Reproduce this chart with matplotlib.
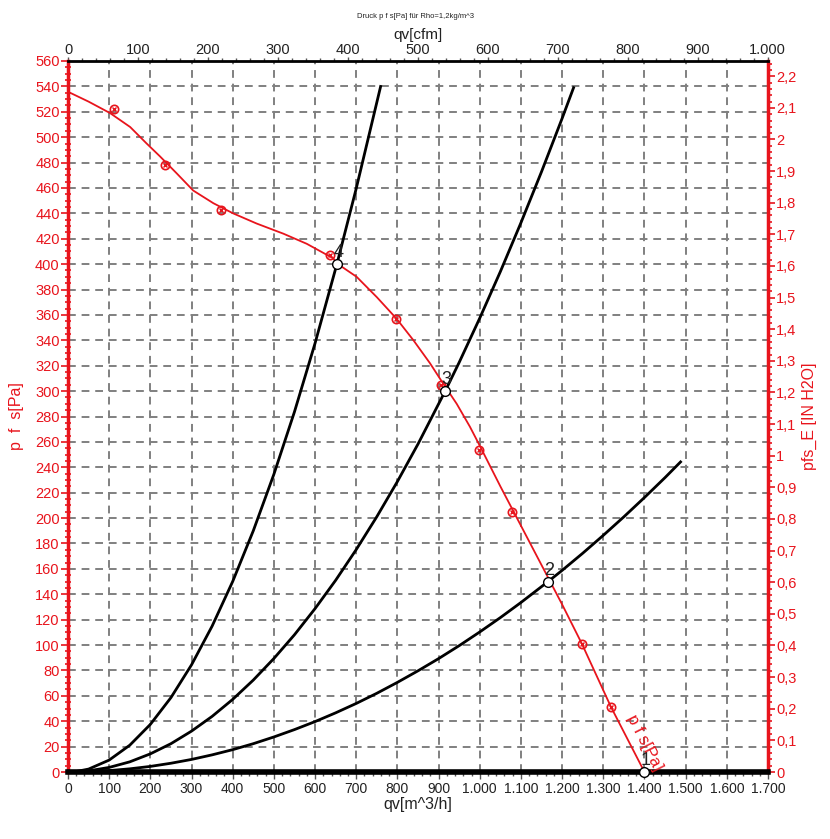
import matplotlib
matplotlib.use("Agg")
import matplotlib.pyplot as plt
from matplotlib.ticker import MultipleLocator, FixedLocator, FuncFormatter

plt.rcParams['font.family'] = ['Liberation Sans', 'DejaVu Sans']

RED = '#e8141c'

# Fan curve (smooth) q [m^3/h], p [Pa]
fan_q = [0, 5, 50, 102, 151, 191, 223, 264, 304, 353, 401, 458, 523, 580, 644, 653, 701, 750, 798,
         839, 879, 911, 944, 976, 1000, 1050, 1100, 1150, 1200, 1248, 1319, 1400]
fan_p = [534, 535, 528, 519, 508, 495, 485, 471.5, 458, 448, 440, 432, 424, 416, 404.6, 400.6, 390, 374, 357,
         340, 322, 306, 290, 272, 257, 225, 194, 163, 132, 101, 51, 0]

# Measured points
meas_q = [112, 236, 372, 636, 796, 906, 998, 1078, 1248, 1319]
meas_p = [522, 478, 443, 407, 357, 305, 254, 205, 101, 51]

# System curves
sys4_q = [20, 50, 100, 150, 200, 250, 300, 350, 400, 450, 500, 550, 600, 653, 700, 760]
sys4_p = [0.4, 2.3, 9.4, 21.1, 37.5, 58.6, 84.4, 114.9, 150.1, 190, 234.5, 283.7, 337.7, 400, 459.6, 541]
sys3_q = [20, 50, 100, 150, 200, 250, 300, 350, 400, 450, 500, 550, 600, 650, 700, 750, 800, 850, 916,
          950, 1000, 1050, 1100, 1150, 1200, 1229]
sys3_p = [0.1, 0.9, 3.6, 8.0, 14.3, 22.3, 32.2, 43.8, 57.2, 72.4, 89.4, 108.1, 128.7, 151.0, 175.2, 201.1,
          228.8, 258.3, 300, 322.6, 357.5, 394.1, 432.6, 472.8, 514.8, 540]
sys2_q = [20, 50, 100, 150, 200, 250, 300, 350, 400, 450, 500, 550, 600, 650, 700, 750, 800, 850, 900,
          950, 1000, 1050, 1100, 1166, 1200, 1250, 1300, 1350, 1400, 1450, 1490]
sys2_p = [0.0, 0.3, 1.1, 2.5, 4.4, 6.9, 9.9, 13.5, 17.6, 22.3, 27.6, 33.4, 39.7, 46.6, 54.0, 62.0, 70.6,
          79.7, 89.3, 99.5, 110.3, 121.6, 133.5, 150, 158.8, 172.3, 186.4, 201.0, 216.2, 231.9, 245]

# Operating points
op_labels = ['1', '2', '3', '4']
op_q = [1400, 1166, 916, 653]
op_p = [0, 150, 300, 400]

x_ticks = list(range(0, 1701, 100))
cfm_ticks = list(range(0, 1001, 100))
inh2o_ticks = [i / 10 for i in range(0, 23)]

fig = plt.figure(figsize=(8.3, 8.39), dpi=100)
ax = fig.add_axes([68/830, 1-772/839, 700/830, 711/839])
ax.set_xlim(0, 1700)
ax.set_ylim(0, 560)

ax.grid(True, which='major', color='#808080', linestyle=(0, (4, 3)), linewidth=1.4)
ax.xaxis.set_major_locator(FixedLocator(x_ticks))
ax.xaxis.set_minor_locator(MultipleLocator(20))
ax.yaxis.set_major_locator(MultipleLocator(20))
ax.yaxis.set_minor_locator(MultipleLocator(5))

for q, p in [(sys4_q, sys4_p), (sys3_q, sys3_p), (sys2_q, sys2_p)]:
    ax.plot(q, p, color='black', lw=2, zorder=3, solid_capstyle='butt', solid_joinstyle='round')
ax.plot([0, 1700], [0, 0], color='black', lw=4, zorder=3, clip_on=False)

ax.plot(fan_q, fan_p, color=RED, lw=1.3, zorder=4, solid_joinstyle='round')
ax.plot(meas_q, meas_p, linestyle='none', marker='o', ms=6, mfc='none', mec=RED, mew=1.2, zorder=5)
ax.plot(meas_q, meas_p, linestyle='none', marker='x', ms=3, color=RED, mew=1.0, zorder=5)

ax.plot(op_q, op_p, linestyle='none', marker='o', ms=7, mfc='white', mec='black', mew=1.0, zorder=6, clip_on=False)
for lab, q, p in zip(op_labels, op_q, op_p):
    ax.annotate(lab, (q, p), xytext=(1, 2), textcoords='offset points', fontsize=13,
                color='#222222', ha='center', va='bottom', zorder=7)

ax.text(1401, 23, 'p f s[Pa]', color=RED, fontsize=12, rotation=-63,
        rotation_mode='anchor', ha='center', va='center', zorder=7)

# spines
ax.spines['left'].set_color(RED)
ax.spines['left'].set_linewidth(2.5)
ax.spines['right'].set_color(RED)
ax.spines['right'].set_linewidth(2.5)
ax.spines['top'].set_color('black')
ax.spines['top'].set_linewidth(2)
ax.spines['bottom'].set_color('black')
ax.spines['bottom'].set_linewidth(3)

thou = FuncFormatter(lambda v, pos: f"{int(round(v)):,}".replace(',', '.'))
ax.xaxis.set_major_formatter(thou)
ax.tick_params(axis='x', which='major', direction='out', length=5, width=1, color='#555555',
               labelsize=10, pad=2, labelcolor='#222222')
ax.tick_params(axis='x', which='minor', direction='out', length=3, width=1, color='#555555')
ax.tick_params(axis='y', which='major', direction='out', length=5, width=1.2, color=RED,
               labelsize=10.5, labelcolor=RED, pad=1)
ax.tick_params(axis='y', which='minor', direction='inout', length=4, width=1.2, color=RED)
ax.set_xlabel('qv[m^3/h]', fontsize=11.5, color='#222222', labelpad=1)
ax.set_ylabel('p  f  s[Pa]', fontsize=11.5, color=RED, labelpad=8)

# top axis cfm
M3H_PER_CFM = 1.69901
top = ax.secondary_xaxis('top', functions=(lambda x: x / M3H_PER_CFM, lambda x: x * M3H_PER_CFM))
top.xaxis.set_major_locator(FixedLocator(cfm_ticks))
top.xaxis.set_minor_locator(MultipleLocator(20))
top.xaxis.set_major_formatter(thou)
top.tick_params(axis='x', which='major', direction='out', length=3, width=1, color='#555555',
                labelsize=10.5, pad=0, labelcolor='#222222')
top.tick_params(axis='x', which='minor', direction='out', length=2.5, width=1, color='#555555')
top.set_xlabel('qv[cfm]', fontsize=11, color='#222222', labelpad=3)
top.spines['top'].set_visible(False)

# right axis inH2O
PA_PER_INH2O = 249.089
right = ax.secondary_yaxis('right', functions=(lambda p: p / PA_PER_INH2O, lambda v: v * PA_PER_INH2O))
right.yaxis.set_major_locator(FixedLocator(inh2o_ticks))
right.yaxis.set_minor_locator(MultipleLocator(0.02))
right.yaxis.set_major_formatter(FuncFormatter(lambda v, pos: (f"{v:.1f}".rstrip('0').rstrip('.')).replace('.', ',') if abs(v) > 1e-9 else '0'))
right.tick_params(axis='y', which='major', direction='out', length=5, width=1.2, color=RED,
                  labelsize=10.5, labelcolor=RED, pad=1)
right.tick_params(axis='y', which='minor', direction='out', length=3, width=1.2, color=RED)
right.spines['right'].set_visible(False)
right.set_ylabel('pfs_E [IN H2O]', fontsize=11.5, color=RED, labelpad=4)

fig.text(0.5, 1 - 17/839, 'Druck p f s[Pa] für Rho=1,2kg/m^3', fontsize=5.5, ha='center', va='center',
         color='#222222')

fig.savefig('out.png', dpi=100)
